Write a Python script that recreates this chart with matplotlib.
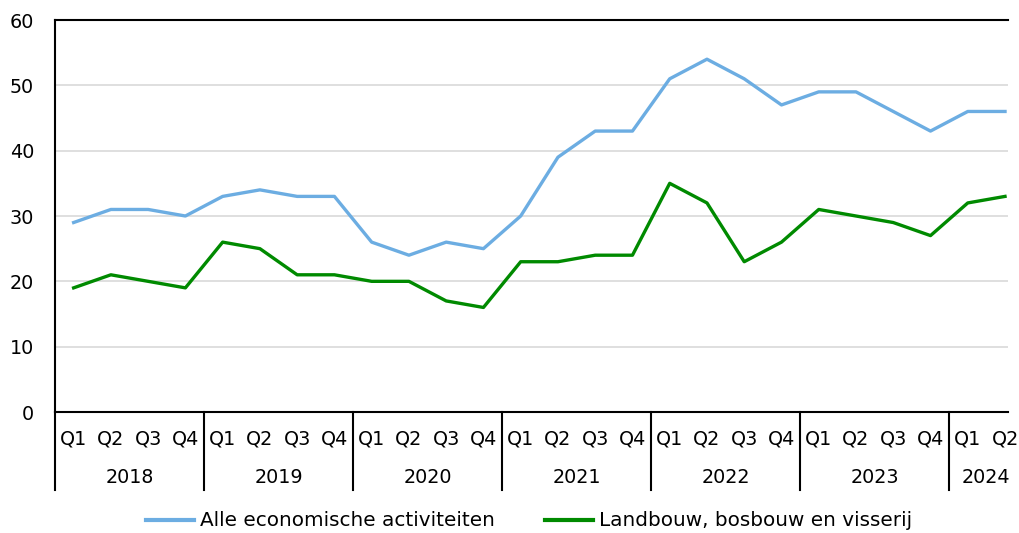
import matplotlib
matplotlib.use("Agg")
import matplotlib.pyplot as plt
from matplotlib.lines import Line2D

years = ["2018", "2019", "2020", "2021", "2022", "2023", "2024"]
quarters = ["Q1", "Q2", "Q3", "Q4"] * 6 + ["Q1", "Q2"]

alle = [29, 31, 31, 30, 33, 34, 33, 33, 26, 24, 26, 25,
        30, 39, 43, 43, 51, 54, 51, 47, 49, 49, 46, 43, 46, 46]
landbouw = [19, 21, 20, 19, 26, 25, 21, 21, 20, 20, 17, 16,
            23, 23, 24, 24, 35, 32, 23, 26, 31, 30, 29, 27, 32, 33]

blue = "#6cade2"
green = "#008a00"
fs = 13.8

fig = plt.figure(figsize=(10.19, 5.33), dpi=100)
ax = fig.add_axes([55 / 1019, 1 - 412 / 533, 953 / 1019, 392 / 533])

x = list(range(len(alle)))
ax.plot(x, alle, color=blue, lw=2.4, solid_joinstyle="round")
ax.plot(x, landbouw, color=green, lw=2.4, solid_joinstyle="round")

ax.set_ylim(0, 60)
ax.set_xlim(-0.5, 25.08)
ax.set_yticks(range(0, 61, 10))
ax.tick_params(axis="y", length=0, pad=15, labelsize=fs)
ax.set_xticks([])
ax.grid(axis="y", color="#d9d9d9", lw=1.2)
ax.set_axisbelow(True)
ax.spines["right"].set_visible(False)
for s in ["left", "top", "bottom"]:
    ax.spines[s].set_linewidth(1.5)
    ax.spines[s].set_color("black")

trans = ax.get_xaxis_transform()
for i, q in enumerate(quarters):
    ax.text(i, -0.068, q, transform=trans, ha="center", va="center", fontsize=fs)

for k, yr in enumerate(years):
    start = k * 4
    n = min(4, len(alle) - start)
    ax.text(start + (n - 1) / 2, -0.167, yr, transform=trans, ha="center",
            va="center", fontsize=fs)
    ax.add_line(Line2D([start - 0.5, start - 0.5], [0, -0.2], transform=trans,
                       color="black", lw=1.5, clip_on=False))

handles = [Line2D([], [], color=blue, lw=3), Line2D([], [], color=green, lw=3)]
fig.legend(handles, ["Alle economische activiteiten", "Landbouw, bosbouw en visserij"],
           loc="center", bbox_to_anchor=(0.519, 1 - 521 / 533), ncol=2,
           frameon=False, fontsize=14.4, handlelength=2.4, handletextpad=0.3,
           columnspacing=2.5)

fig.savefig("out.png", dpi=100)
